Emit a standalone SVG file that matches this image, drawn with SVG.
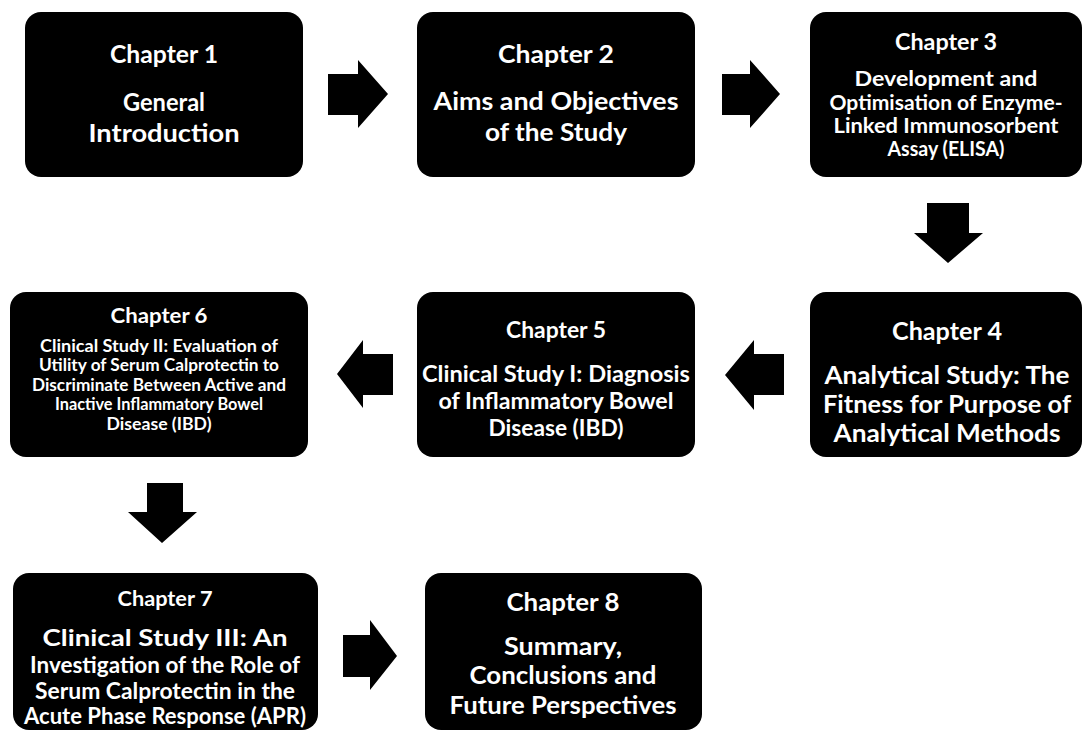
<svg xmlns="http://www.w3.org/2000/svg" width="1084" height="731" viewBox="0 0 1084 731">
<style>
.box{fill:#000}
.t{fill:#fff;font-family:Lato,"Open Sans","DejaVu Sans",sans-serif;font-weight:bold;text-anchor:middle}
.arr{fill:#000}
</style>
<rect width="1084" height="731" fill="#fff"/>
<g id="node-ch1">
<rect class="box" x="25" y="12" width="278" height="165" rx="16"/>
<text class="t" x="164" y="63" font-size="24.5" textLength="108" lengthAdjust="spacingAndGlyphs">Chapter 1</text>
<text class="t" x="164" y="111" font-size="25" textLength="82" lengthAdjust="spacingAndGlyphs">General</text>
<text class="t" x="164" y="142" font-size="25" textLength="151" lengthAdjust="spacingAndGlyphs">Introduction</text>
</g>
<g id="node-ch2">
<rect class="box" x="417" y="12" width="278" height="165" rx="16"/>
<text class="t" x="556" y="63" font-size="25.5" textLength="116" lengthAdjust="spacingAndGlyphs">Chapter 2</text>
<text class="t" x="556" y="110" font-size="25.5" textLength="245" lengthAdjust="spacingAndGlyphs">Aims and Objectives</text>
<text class="t" x="556" y="141" font-size="25.5" textLength="142" lengthAdjust="spacingAndGlyphs">of the Study</text>
</g>
<g id="node-ch3">
<rect class="box" x="810" y="12" width="272" height="165" rx="16"/>
<text class="t" x="946" y="50" font-size="22.5" textLength="102" lengthAdjust="spacingAndGlyphs">Chapter 3</text>
<text class="t" x="946" y="86" font-size="20" textLength="183" lengthAdjust="spacingAndGlyphs">Development and</text>
<text class="t" x="946" y="110" font-size="20" textLength="233" lengthAdjust="spacingAndGlyphs">Optimisation of Enzyme-</text>
<text class="t" x="946" y="133" font-size="20" textLength="225" lengthAdjust="spacingAndGlyphs">Linked Immunosorbent</text>
<text class="t" x="946" y="156" font-size="20" textLength="117" lengthAdjust="spacingAndGlyphs">Assay (ELISA)</text>
</g>
<g id="node-ch4">
<rect class="box" x="810" y="292" width="272" height="165" rx="16"/>
<text class="t" x="947" y="340" font-size="24.5" textLength="110" lengthAdjust="spacingAndGlyphs">Chapter 4</text>
<text class="t" x="947" y="384" font-size="25" textLength="245" lengthAdjust="spacingAndGlyphs">Analytical Study: The</text>
<text class="t" x="947" y="413" font-size="25" textLength="248" lengthAdjust="spacingAndGlyphs">Fitness for Purpose of</text>
<text class="t" x="947" y="442" font-size="25" textLength="227" lengthAdjust="spacingAndGlyphs">Analytical Methods</text>
</g>
<g id="node-ch5">
<rect class="box" x="417" y="292" width="278" height="165" rx="16"/>
<text class="t" x="556" y="338" font-size="22.5" textLength="100" lengthAdjust="spacingAndGlyphs">Chapter 5</text>
<text class="t" x="556" y="382" font-size="23" textLength="268" lengthAdjust="spacingAndGlyphs">Clinical Study I: Diagnosis</text>
<text class="t" x="556" y="409" font-size="23" textLength="235" lengthAdjust="spacingAndGlyphs">of Inflammatory Bowel</text>
<text class="t" x="556" y="436" font-size="23" textLength="135" lengthAdjust="spacingAndGlyphs">Disease (IBD)</text>
</g>
<g id="node-ch6">
<rect class="box" x="10" y="292" width="298" height="165" rx="16"/>
<text class="t" x="159" y="323" font-size="21.5" textLength="97" lengthAdjust="spacingAndGlyphs">Chapter 6</text>
<text class="t" x="159" y="352" font-size="16.5" textLength="238" lengthAdjust="spacingAndGlyphs">Clinical Study II: Evaluation of</text>
<text class="t" x="159" y="371" font-size="16.5" textLength="240" lengthAdjust="spacingAndGlyphs">Utility of Serum Calprotectin to</text>
<text class="t" x="159" y="391" font-size="16.5" textLength="254" lengthAdjust="spacingAndGlyphs">Discriminate Between Active and</text>
<text class="t" x="159" y="410" font-size="16.5" textLength="208" lengthAdjust="spacingAndGlyphs">Inactive Inflammatory Bowel</text>
<text class="t" x="159" y="430" font-size="16.5" textLength="105" lengthAdjust="spacingAndGlyphs">Disease (IBD)</text>
</g>
<g id="node-ch7">
<rect class="box" x="13" y="573" width="305" height="157" rx="16"/>
<text class="t" x="165" y="606" font-size="21.5" textLength="95" lengthAdjust="spacingAndGlyphs">Chapter 7</text>
<text class="t" x="165" y="646" font-size="22" textLength="245" lengthAdjust="spacingAndGlyphs">Clinical Study III: An</text>
<text class="t" x="165" y="673" font-size="22" textLength="270" lengthAdjust="spacingAndGlyphs">Investigation of the Role of</text>
<text class="t" x="165" y="699" font-size="22" textLength="260" lengthAdjust="spacingAndGlyphs">Serum Calprotectin in the</text>
<text class="t" x="165" y="724" font-size="22" textLength="282" lengthAdjust="spacingAndGlyphs">Acute Phase Response (APR)</text>
</g>
<g id="node-ch8">
<rect class="box" x="425" y="573" width="277" height="157" rx="16"/>
<text class="t" x="563" y="611" font-size="25" textLength="113" lengthAdjust="spacingAndGlyphs">Chapter 8</text>
<text class="t" x="563" y="655" font-size="25" textLength="118" lengthAdjust="spacingAndGlyphs">Summary,</text>
<text class="t" x="563" y="684" font-size="25" textLength="187" lengthAdjust="spacingAndGlyphs">Conclusions and</text>
<text class="t" x="563" y="714" font-size="25" textLength="227" lengthAdjust="spacingAndGlyphs">Future Perspectives</text>
</g>
<g id="connectors">
<path class="arr" d="M328,74 H358 V60 L388,94 L358,128 V115 H328 Z"/>
<path class="arr" d="M722,74 H750 V60 L780,94 L750,128 V115 H722 Z"/>
<path class="arr" d="M927,203 H969 V233 H983 L948,263 L914,233 H927 Z"/>
<path class="arr" d="M784,354 H754 V340 L725,375 L754,410 V395 H784 Z"/>
<path class="arr" d="M393,354 H363 V340 L337,374 L363,408 V395 H393 Z"/>
<path class="arr" d="M147,483 H183 V512 H197 L162,543 L128,512 H147 Z"/>
<path class="arr" d="M343,635 H370 V620 L397,656 L370,690 V677 H343 Z"/>
</g>
</svg>
